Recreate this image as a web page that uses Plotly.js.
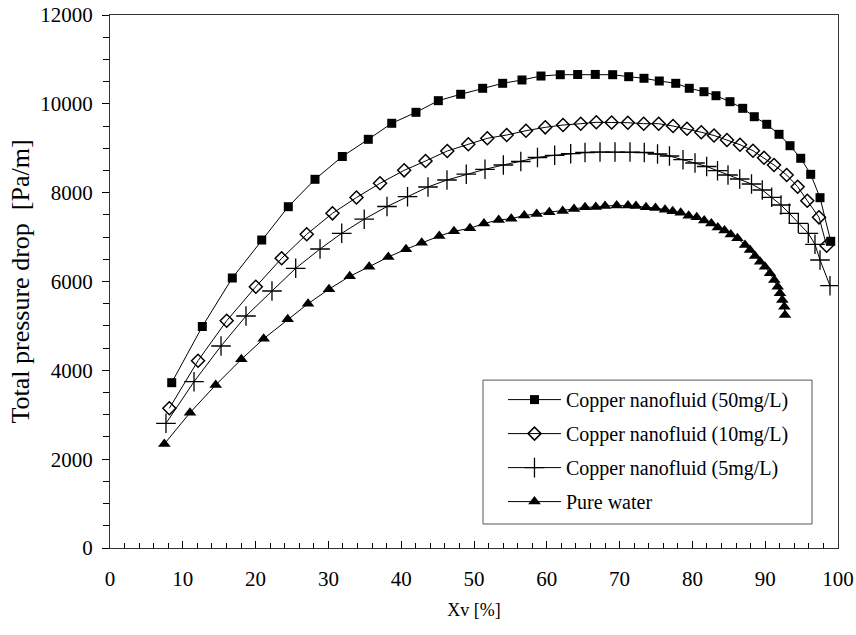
<!DOCTYPE html>
<html>
<head>
<meta charset="utf-8">
<script src="https://cdn.plot.ly/plotly-3.0.1.min.js"></script>
<style>html,body{margin:0;padding:0;background:#fff;}#chart{width:856px;height:635px;}</style>
</head>
<body>
<div id="chart"></div>
<script>
// Copper nanofluid (50mg/L)
const x50 = [8.48,12.68,16.80,20.84,24.49,28.16,31.91,35.48,38.70,42.03,45.10,48.17,51.19,53.94,56.59,59.20,61.85,64.24,66.66,69.05,71.25,73.35,75.45,77.71,79.57,81.59,83.24,85.16,86.91,88.50,90.21,91.90,93.41,94.88,96.25,97.53,99.00];
const y50 = [3722,4987,6079,6934,7684,8301,8814,9201,9562,9809,10071,10215,10350,10462,10537,10626,10656,10660,10662,10656,10611,10575,10514,10462,10350,10273,10183,10048,9899,9710,9539,9314,9057,8774,8413,7887,6905];

// Copper nanofluid (10mg/L)
const x10 = [8.15,12.09,16.03,20.03,23.58,27.02,30.56,33.86,37.09,40.41,43.34,46.33,49.22,51.83,54.49,57.14,59.79,62.23,64.66,66.80,68.91,71.13,73.31,75.37,77.34,79.26,81.22,82.97,84.75,86.54,88.32,89.84,91.21,92.95,94.46,95.78,97.39,98.44];
const y10 = [3145,4217,5117,5883,6522,7063,7535,7891,8211,8503,8713,8938,9089,9224,9298,9395,9471,9523,9553,9584,9580,9575,9553,9553,9501,9438,9361,9287,9186,9080,8945,8785,8623,8398,8134,7819,7445,6806];

// Copper nanofluid (5mg/L)
const x5 = [7.69,11.54,15.25,18.68,22.25,25.51,28.85,31.83,34.92,38.05,40.87,43.68,46.29,48.94,51.51,54.03,56.43,58.72,61.08,63.28,65.25,67.31,69.37,71.43,73.39,75.21,76.85,78.71,80.36,81.96,83.45,84.89,86.50,88.12,89.60,90.89,92.17,93.31,94.55,95.92,96.84,97.53,98.90];
const y5 = [2807,3744,4548,5223,5786,6297,6732,7085,7403,7688,7909,8128,8285,8416,8526,8623,8702,8792,8841,8877,8904,8915,8915,8915,8904,8870,8825,8742,8668,8589,8494,8398,8308,8195,8060,7896,7722,7535,7310,7085,6837,6484,5905];

// Pure water
const xw = [7.46,10.99,14.52,18.04,21.11,24.41,27.20,30.08,32.93,35.60,38.23,40.66,42.82,45.23,47.25,49.45,51.37,53.39,55.12,56.90,58.61,60.34,62.18,63.74,65.25,66.73,68.00,69.60,71.15,72.25,73.63,74.93,76.24,77.29,78.39,79.49,80.59,81.62,82.60,83.49,84.41,85.27,86.19,87.23,87.91,88.60,89.29,89.97,90.66,91.25,91.72,92.03,92.35,92.63,92.72];
const yw = [2341,3046,3670,4248,4712,5149,5500,5827,6117,6333,6551,6727,6873,7024,7130,7198,7306,7385,7414,7486,7520,7558,7587,7632,7670,7677,7700,7711,7711,7700,7670,7655,7617,7580,7547,7482,7445,7373,7306,7216,7148,7058,6973,6822,6709,6574,6446,6333,6185,6034,5883,5734,5583,5433,5246];

const seriesNames = ['Copper nanofluid (50mg/L)','Copper nanofluid (10mg/L)','Copper nanofluid (5mg/L)','Pure water'];
const xTicks = [0,10,20,30,40,50,60,70,80,90,100];
const yTicks = [0,2000,4000,6000,8000,10000,12000];

const serif = 'Liberation Serif';
const line = {color:'#000', width:1};

const traces = [
  {x:x50, y:y50, name:seriesNames[0], legendgroup:'a', mode:'lines+markers', line:line,
   marker:{symbol:'square', size:9, color:'#000', line:{width:0}}},
  {x:x10, y:y10, name:seriesNames[1], legendgroup:'b', mode:'lines+markers', line:line,
   marker:{symbol:'diamond-open', size:10, color:'#000', line:{width:1.5, color:'#000'}}},
  {x:x5, y:y5, name:seriesNames[2], legendgroup:'c', mode:'lines+markers', line:line,
   marker:{symbol:'cross-thin-open', size:14, color:'#000', line:{width:1.3, color:'#000'}}},
  {x:xw, y:yw, name:seriesNames[3], legendgroup:'d', mode:'lines+markers', line:line,
   marker:{symbol:'triangle-up', size:11, color:'#000', line:{width:0}}}
];

const layout = {
  width:856, height:635,
  margin:{l:110, r:18, t:15, b:87},
  paper_bgcolor:'#fff', plot_bgcolor:'#fff',
  font:{family:serif, color:'#000', size:20},
  showlegend:true,
  legend:{x:0.5398, y:0.315, xanchor:'left', yanchor:'top',
    bgcolor:'rgba(0,0,0,0)', borderwidth:0,
    font:{family:serif, size:20, color:'#000'},
    traceorder:'grouped', tracegroupgap:5, itemwidth:53},
  shapes:[{type:'rect', xref:'paper', yref:'paper', x0:0.5124, x1:0.9643, y0:0.045, y1:0.315,
    line:{color:'#555', width:1}, fillcolor:'#fff', layer:'above'}],
  xaxis:{range:[0,100], tickvals:xTicks, ticktext:xTicks.map(String),
    showgrid:false, zeroline:false, showline:true, mirror:true, linecolor:'#333', linewidth:1,
    ticks:'inside', ticklen:7, tickcolor:'#000',
    minor:{dtick:2, ticks:'inside', ticklen:5, tickcolor:'#000', showgrid:false},
    tickfont:{family:serif, size:21}, ticklabelstandoff:12,
    title:{text:'Xv [%]', font:{family:serif, size:18}, standoff:13}},
  yaxis:{range:[0,12000], tickvals:yTicks, ticktext:yTicks.map(String),
    showgrid:false, zeroline:false, showline:true, mirror:true, linecolor:'#333', linewidth:1,
    ticks:'outside', ticklen:7, tickcolor:'#000',
    minor:{dtick:500, ticks:'outside', ticklen:6, tickcolor:'#000', showgrid:false},
    tickfont:{family:serif, size:21}, ticklabelstandoff:5,
    title:{text:'\u00a0\u00a0\u00a0Total pressure drop\u00a0\u00a0[Pa/m]', font:{family:serif, size:26}, standoff:3}}
};

Plotly.newPlot('chart', traces, layout, {displayModeBar:false, staticPlot:true});
</script>
</body>
</html>
